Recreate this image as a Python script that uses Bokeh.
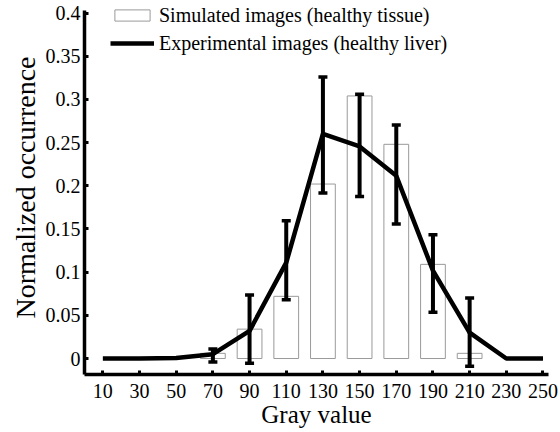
from bokeh.plotting import figure
from bokeh.models import ColumnDataSource, Whisker, TeeHead, FixedTicker, Range1d, Legend, LegendItem
from bokeh.embed import file_html
from bokeh.resources import INLINE

# ---- data ----
gray = [10, 30, 50, 70, 90, 110, 130, 150, 170, 190, 210, 230, 250]
experimental = [0.0, 0.0, 0.0005, 0.005, 0.032, 0.111, 0.260, 0.2455, 0.2115, 0.1017, 0.030, 0.0, 0.0]

bar_gray = [70, 90, 110, 130, 150, 170, 190, 210]
simulated = [0.006, 0.034, 0.072, 0.202, 0.304, 0.248, 0.109, 0.006]

err_gray = [70, 90, 110, 130, 150, 170, 190, 210]
err_upper = [0.011, 0.0736, 0.1595, 0.326, 0.306, 0.2705, 0.1434, 0.070]
err_lower = [-0.004, -0.0054, 0.068, 0.1915, 0.1877, 0.1557, 0.0535, -0.009]

x_ticks = [10, 30, 50, 70, 90, 110, 130, 150, 170, 190, 210, 230, 250]
y_ticks = [0, 0.05, 0.1, 0.15, 0.2, 0.25, 0.3, 0.35, 0.4]
y_tick_labels = ["0", "0.05", "0.1", "0.15", "0.2", "0.25", "0.3", "0.35", "0.4"]

FONT = "Liberation Serif"

p = figure(width=560, height=432, output_backend="svg", toolbar_location=None,
           x_range=Range1d(0, 253), y_range=Range1d(-0.0185, 0.4145))
p.min_border_left = 84
p.min_border_right = 12
p.min_border_top = 0
p.min_border_bottom = 58
p.outline_line_color = None
p.xgrid.visible = False
p.ygrid.visible = False
p.background_fill_color = "white"
p.border_fill_color = "white"

bar_src = ColumnDataSource(dict(x=bar_gray, top=simulated))
bars = p.vbar(x="x", top="top", bottom=0, width=13.5, source=bar_src,
              fill_color="white", line_color="#9a9a9a", line_width=1)

line_src = ColumnDataSource(dict(x=gray, y=experimental))
ln = p.line(x="x", y="y", source=line_src, line_color="black", line_width=4.5)

err_src = ColumnDataSource(dict(x=err_gray, upper=err_upper, lower=err_lower))
wh = Whisker(base="x", upper="upper", lower="lower", source=err_src,
             line_color="black", line_width=4, level="overlay",
             upper_head=TeeHead(size=9, line_width=3.5, line_color="black"),
             lower_head=TeeHead(size=9, line_width=3.5, line_color="black"))
p.add_layout(wh)

# axes
for ax in (p.xaxis[0], p.yaxis[0]):
    ax.axis_line_width = 3.5
    ax.axis_line_color = "black"
    ax.major_tick_in = 4
    ax.major_tick_out = 0
    ax.major_tick_line_width = 3
    ax.minor_tick_line_color = None
    ax.major_label_text_font = FONT
    ax.major_label_text_font_size = "20px"
    ax.major_label_text_color = "black"
    ax.axis_label_text_font = FONT
    ax.axis_label_text_font_style = "normal"
    ax.axis_label_text_color = "black"

p.xaxis.axis_label_text_font_size = "25px"
p.yaxis.axis_label_text_font_size = "28px"
p.xaxis.bounds = (0, 253)
p.yaxis.bounds = (-0.0185, 0.4025)
p.xaxis.ticker = FixedTicker(ticks=x_ticks)
p.yaxis.ticker = FixedTicker(ticks=y_ticks)
p.yaxis.major_label_overrides = {t: l for t, l in zip(y_ticks, y_tick_labels)}
p.xaxis.axis_label = "Gray value"
p.yaxis.axis_label = "Normalized occurrence"
p.xaxis.major_label_standoff = 9
p.yaxis.major_label_standoff = 4
p.xaxis.axis_label_standoff = 0
p.yaxis.axis_label_standoff = 2

legend = Legend(items=[
    LegendItem(label="Simulated images (healthy tissue)", renderers=[bars]),
    LegendItem(label="Experimental images (healthy liver)", renderers=[ln]),
], location=(26, 319))
legend.label_text_font = FONT
legend.label_text_font_size = "20px"
legend.label_text_color = "black"
legend.glyph_width = 44
legend.glyph_height = 14
legend.label_standoff = 5
legend.label_height = 24
legend.spacing = 4
legend.padding = 0
legend.margin = 0
legend.border_line_color = None
legend.background_fill_alpha = 0
p.add_layout(legend)

open("out.html", "w").write(file_html(p, INLINE))
